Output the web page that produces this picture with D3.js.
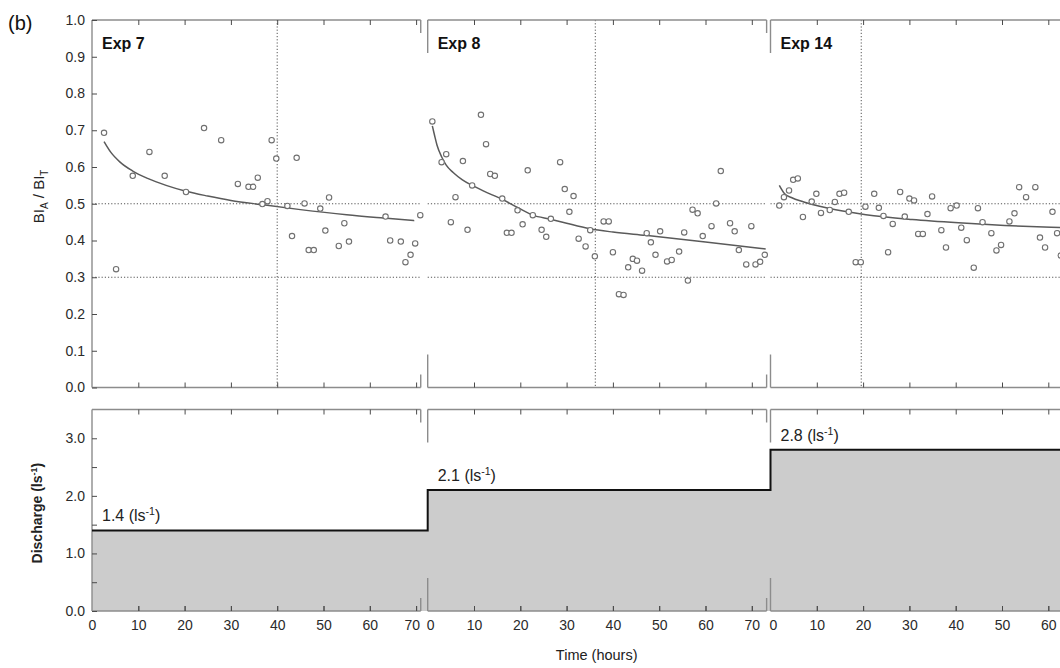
<!DOCTYPE html>
<html>
<head>
<meta charset="utf-8">
<script src="https://cdn.jsdelivr.net/npm/d3@7"></script>
<style>
  body { margin: 0; background: #fff; }
  svg { display: block; font-family: 'Liberation Sans', Arial, sans-serif; }
</style>
</head>
<body>
<svg id="chart"></svg>
<script>
// experiments and their axis spans (hours)
const experiments = ['Exp 7', 'Exp 8', 'Exp 14']
const spans = [71, 73.2, 73]
const discharge = [1.4, 2.1, 2.8]
const dividerTimes = [40, 36.2, 19.6]
const guideRatios = [0.3, 0.5]

// tick labels
const timeTicks = [0, 10, 20, 30, 40, 50, 60, 70]
const ratioTicks = [0, 0.1, 0.2, 0.3, 0.4, 0.5, 0.6, 0.7, 0.8, 0.9, 1.0]
const dischargeTicks = [0, 1, 2, 3]
const dischargeMinor = [0.5, 1.5, 2.5]

// Exp 7 observations
const exp7Time = [2.6, 5.2, 8.8, 12.4, 15.7, 20.3, 24.2, 27.9, 31.5, 33.8, 34.8, 35.8, 36.8, 37.9, 38.8, 39.8, 42.2, 43.2, 44.2, 45.9, 46.8, 47.9, 49.3, 50.4, 51.2, 53.3, 54.5, 55.5, 63.4, 64.4, 66.7, 67.7, 68.8, 69.8, 70.9]
const exp7Ratio = [0.693, 0.322, 0.576, 0.641, 0.576, 0.532, 0.706, 0.673, 0.554, 0.546, 0.546, 0.571, 0.499, 0.507, 0.673, 0.623, 0.494, 0.412, 0.625, 0.501, 0.374, 0.374, 0.487, 0.427, 0.517, 0.385, 0.447, 0.397, 0.465, 0.4, 0.397, 0.341, 0.361, 0.392, 0.469]
const exp7FitTime = [2.6, 4, 6, 8.8, 12, 16, 20.3, 25, 30, 37, 45, 55, 63, 69.6]
const exp7FitRatio = [0.669, 0.641, 0.614, 0.589, 0.569, 0.55, 0.534, 0.521, 0.509, 0.497, 0.484, 0.47, 0.461, 0.454]

// Exp 8 observations
const exp8Time = [1.0, 3.0, 4.0, 5.0, 6.0, 7.6, 8.6, 9.6, 11.5, 12.6, 13.5, 14.5, 16.1, 17.1, 18.1, 19.4, 20.5, 21.6, 22.7, 24.6, 25.6, 26.6, 28.6, 29.6, 30.6, 31.5, 32.6, 34.1, 35.1, 36.1, 38.0, 39.1, 40.0, 41.3, 42.3, 43.3, 44.3, 45.2, 46.3, 47.3, 48.2, 49.2, 50.2, 51.7, 52.7, 54.3, 55.4, 56.2, 57.2, 58.3, 59.4, 61.3, 62.3, 63.3, 65.3, 66.3, 67.2, 68.8, 69.9, 70.8, 71.8, 72.8]
const exp8Ratio = [0.724, 0.613, 0.635, 0.45, 0.518, 0.616, 0.429, 0.55, 0.742, 0.662, 0.581, 0.576, 0.514, 0.421, 0.421, 0.482, 0.444, 0.591, 0.469, 0.429, 0.41, 0.459, 0.613, 0.54, 0.478, 0.521, 0.405, 0.384, 0.428, 0.357, 0.452, 0.452, 0.368, 0.254, 0.252, 0.327, 0.35, 0.345, 0.318, 0.42, 0.395, 0.361, 0.425, 0.343, 0.347, 0.37, 0.422, 0.291, 0.484, 0.474, 0.412, 0.439, 0.501, 0.589, 0.447, 0.425, 0.374, 0.335, 0.439, 0.335, 0.342, 0.361]
const exp8FitTime = [1.0, 1.5, 2, 3, 4, 5.5, 7.5, 9.6, 12, 16.1, 19.4, 22.7, 26.6, 30, 35, 40, 47, 60, 73]
const exp8FitRatio = [0.712, 0.685, 0.66, 0.628, 0.605, 0.585, 0.565, 0.55, 0.535, 0.512, 0.49, 0.469, 0.458, 0.447, 0.432, 0.423, 0.414, 0.396, 0.377]

// Exp 14 observations
const exp14Time = [1.9, 2.9, 4.0, 4.9, 5.9, 7.0, 8.9, 9.9, 10.9, 12.8, 13.9, 14.9, 15.9, 16.9, 18.4, 19.5, 20.5, 22.4, 23.4, 24.4, 25.4, 26.4, 28.0, 29.0, 30.0, 31.0, 31.9, 32.9, 33.9, 34.9, 36.9, 37.9, 38.9, 40.2, 41.2, 42.4, 43.9, 44.8, 45.8, 47.7, 48.8, 49.8, 51.6, 52.7, 53.7, 55.2, 57.2, 58.2, 59.3, 60.9, 61.9, 62.7]
const exp14Ratio = [0.495, 0.518, 0.536, 0.565, 0.569, 0.464, 0.506, 0.527, 0.475, 0.483, 0.505, 0.527, 0.53, 0.478, 0.341, 0.341, 0.492, 0.527, 0.489, 0.467, 0.368, 0.445, 0.532, 0.465, 0.514, 0.509, 0.418, 0.418, 0.472, 0.52, 0.428, 0.381, 0.488, 0.495, 0.435, 0.401, 0.326, 0.488, 0.45, 0.42, 0.373, 0.388, 0.452, 0.474, 0.545, 0.518, 0.545, 0.408, 0.381, 0.478, 0.42, 0.359]
const exp14FitTime = [1.9, 3.0, 4.5, 7.2, 10.6, 15.6, 20.6, 30.6, 40.6, 50.6, 60.6, 73]
const exp14FitRatio = [0.55, 0.528, 0.517, 0.505, 0.493, 0.48, 0.47, 0.457, 0.448, 0.441, 0.436, 0.431]

const series = [
  { time: exp7Time, ratio: exp7Ratio, fitTime: exp7FitTime, fitRatio: exp7FitRatio },
  { time: exp8Time, ratio: exp8Ratio, fitTime: exp8FitTime, fitRatio: exp8FitRatio },
  { time: exp14Time, ratio: exp14Ratio, fitTime: exp14FitTime, fitRatio: exp14FitRatio },
]

const options = {
  width: 1060,
  height: 668,
  panelLeft: [92, 427.7, 770.5],
  hourPx: 4.63,
  ratioBox: [20, 387.5],
  dischargeBox: [409.5, 611],
  frameColor: '#8c8c8c',
  tickColor: '#4a4a4a',
  textColor: '#2a2a2a',
}

const { width, height, panelLeft, hourPx, ratioBox, dischargeBox } = options

const svg = d3
  .select('#chart')
  .attr('width', width)
  .attr('height', height)
  .attr('viewBox', [0, 0, width, height])

const yRatio = d3.scaleLinear().domain([0, 1]).range([ratioBox[1], ratioBox[0]])
const yDischarge = d3.scaleLinear().domain([0, 3.5]).range([dischargeBox[1], dischargeBox[0]])

const xScales = experiments.map((_, i) =>
  d3
    .scaleLinear()
    .domain([0, spans[i]])
    .range([panelLeft[i], panelLeft[i] + spans[i] * hourPx])
)

// discharge step fill + line
const steps = discharge.map((v, i) => ({ x: xScales[i](0), v }))
steps.push({ x: xScales[2](spans[2]), v: discharge[2] })

svg
  .append('path')
  .datum(steps)
  .attr('fill', '#cccccc')
  .attr(
    'd',
    d3
      .area()
      .x((d) => d.x)
      .y0(yDischarge(0))
      .y1((d) => yDischarge(d.v))
      .curve(d3.curveStepAfter)
  )

// style helper for axes
const styleAxis = (g, fontSize = 14) => {
  g.select('.domain').remove()
  g.selectAll('.tick line').attr('stroke', options.tickColor).attr('stroke-width', 1)
  g.selectAll('.tick text')
    .attr('fill', options.textColor)
    .style('font-size', fontSize + 'px')
    .style('font-family', "'Liberation Sans', Arial, sans-serif")
}

// frames with axis breaks
const drawFrame = (i, top, bottom) => {
  const x = xScales[i]
  const x0 = x(0)
  const x1 = x(spans[i])
  const frame = svg
    .append('g')
    .attr('stroke', options.frameColor)
    .attr('stroke-width', 1.4)
    .attr('fill', 'none')

  const segs = [
    [x0, top, x1, top],
    [x0, bottom, x1, bottom],
    [x1, top, x1, top + 13],
    [x1, bottom - 13, x1, bottom],
  ]
  if (i === 0) {
    segs.push([x0, top, x0, bottom])
  } else {
    segs.push([x0, top, x0, top + 33])
    segs.push([x0, bottom - 33, x0, bottom])
  }
  frame
    .selectAll('line')
    .data(segs)
    .join('line')
    .attr('x1', (d) => d[0])
    .attr('y1', (d) => d[1])
    .attr('x2', (d) => d[2])
    .attr('y2', (d) => d[3])

  const inner = timeTicks.filter((t) => t > 0 && t <= spans[i])

  svg
    .append('g')
    .attr('transform', `translate(0,${top})`)
    .call(d3.axisTop(x).tickValues(inner).tickSize(-5).tickFormat(''))
    .call(styleAxis)

  svg
    .append('g')
    .attr('transform', `translate(0,${bottom})`)
    .call(d3.axisBottom(x).tickValues(inner).tickSize(-5).tickFormat(''))
    .call(styleAxis)
}

experiments.forEach((name, i) => {
  const x = xScales[i]
  const x0 = x(0)
  const x1 = x(spans[i])

  // dotted guides
  const guides = svg
    .append('g')
    .attr('stroke', '#555')
    .attr('stroke-width', 1)
    .attr('stroke-dasharray', '1.2,2')

  guides
    .selectAll('line.h')
    .data(guideRatios)
    .join('line')
    .attr('class', 'h')
    .attr('x1', x0)
    .attr('x2', x1)
    .attr('y1', (d) => yRatio(d))
    .attr('y2', (d) => yRatio(d))

  guides
    .append('line')
    .attr('x1', x(dividerTimes[i]))
    .attr('x2', x(dividerTimes[i]))
    .attr('y1', ratioBox[0])
    .attr('y2', ratioBox[1])

  drawFrame(i, ratioBox[0], ratioBox[1])
  drawFrame(i, dischargeBox[0], dischargeBox[1])

  // time labels under discharge panel (only those that fit the page)
  svg
    .append('g')
    .attr('transform', `translate(0,${dischargeBox[1]})`)
    .call(
      d3
        .axisBottom(x)
        .tickValues(timeTicks.filter((t) => t <= spans[i] && x(t) < width - 10))
        .tickSizeInner(-5)
        .tickSizeOuter(0)
        .tickPadding(9)
        .tickFormat(d3.format('d'))
    )
    .call(styleAxis)
    .call((g) => g.selectAll('.tick line').filter((d) => d === 0).remove())
    .call((g) =>
      g
        .selectAll('.tick text')
        // keep last label clear of the axis break, first label off the axis line
        .attr('dx', (d) => (d === 0 ? (i > 0 ? 2.5 : 0) : Math.min(0, x1 - x(d) - 9)))
    )

  // fit curve
  const s = series[i]
  const fit = s.fitTime.map((t, k) => [t, s.fitRatio[k]])
  svg
    .append('path')
    .datum(fit)
    .attr('fill', 'none')
    .attr('stroke', '#5a5a5a')
    .attr('stroke-width', 1.5)
    .attr(
      'd',
      d3
        .line()
        .x((d) => x(d[0]))
        .y((d) => yRatio(d[1]))
        .curve(d3.curveMonotoneX)
    )

  // observations
  svg
    .append('g')
    .selectAll('circle')
    .data(s.time.map((t, k) => [t, s.ratio[k]]))
    .join('circle')
    .attr('cx', (d) => x(d[0]))
    .attr('cy', (d) => yRatio(d[1]))
    .attr('r', 2.7)
    .attr('fill', '#fff')
    .attr('stroke', '#707070')
    .attr('stroke-width', 1.1)

  // experiment label
  svg
    .append('text')
    .attr('x', x0 + 10)
    .attr('y', 49)
    .attr('font-size', 16)
    .attr('font-weight', 'bold')
    .attr('fill', '#111')
    .text(name)

  // discharge label
  const lab = svg
    .append('text')
    .attr('x', x0 + 10)
    .attr('y', yDischarge(discharge[i]) - 9)
    .attr('font-size', 16)
    .attr('fill', '#222')
  lab.append('tspan').text(`${discharge[i].toFixed(1)} (ls`)
  lab.append('tspan').attr('dy', -6).attr('font-size', 10.5).text('-1')
  lab.append('tspan').attr('dy', 6).text(')')
})

// step line on top of fill
svg
  .append('path')
  .datum(steps)
  .attr('fill', 'none')
  .attr('stroke', '#111')
  .attr('stroke-width', 2)
  .attr(
    'd',
    d3
      .line()
      .x((d) => d.x)
      .y((d) => yDischarge(d.v))
      .curve(d3.curveStepAfter)
  )

// y axes on the first panel
svg
  .append('g')
  .attr('transform', `translate(${panelLeft[0]},0)`)
  .call(
    d3
      .axisLeft(yRatio)
      .tickValues(ratioTicks)
      .tickSize(-5)
      .tickPadding(7)
      .tickFormat(d3.format('.1f'))
  )
  .call(styleAxis)

svg
  .append('g')
  .attr('transform', `translate(${panelLeft[0]},0)`)
  .call(
    d3
      .axisLeft(yDischarge)
      .tickValues(dischargeTicks)
      .tickSize(-5)
      .tickPadding(7)
      .tickFormat(d3.format('.1f'))
  )
  .call(styleAxis)

svg
  .append('g')
  .attr('transform', `translate(${panelLeft[0]},0)`)
  .call(d3.axisLeft(yDischarge).tickValues(dischargeMinor).tickSize(-5).tickFormat(''))
  .call(styleAxis)

// axis titles
const ratioTitle = svg
  .append('text')
  .attr('transform', `translate(44,${yRatio(0.52)}) rotate(-90)`)
  .attr('text-anchor', 'middle')
  .attr('font-size', 15)
  .attr('fill', '#222')
ratioTitle.append('tspan').text('BI')
ratioTitle.append('tspan').attr('dy', 4).attr('font-size', 10).text('A')
ratioTitle.append('tspan').attr('dy', -4).text(' / BI')
ratioTitle.append('tspan').attr('dy', 4).attr('font-size', 10).text('T')

const dischargeTitle = svg
  .append('text')
  .attr('transform', `translate(42,${yDischarge(1.7)}) rotate(-90)`)
  .attr('text-anchor', 'middle')
  .attr('font-size', 14)
  .attr('font-weight', 'bold')
  .attr('fill', '#222')
dischargeTitle.append('tspan').text('Discharge (ls')
dischargeTitle.append('tspan').attr('dy', -5).attr('font-size', 9).text('-1')
dischargeTitle.append('tspan').attr('dy', 5).text(')')

svg
  .append('text')
  .attr('x', xScales[1](36.5))
  .attr('y', 660)
  .attr('text-anchor', 'middle')
  .attr('font-size', 14.5)
  .attr('fill', '#222')
  .text('Time (hours)')

svg
  .append('text')
  .attr('x', 8)
  .attr('y', 30)
  .attr('font-size', 20)
  .attr('fill', '#111')
  .text('(b)')
</script>
</body>
</html>
